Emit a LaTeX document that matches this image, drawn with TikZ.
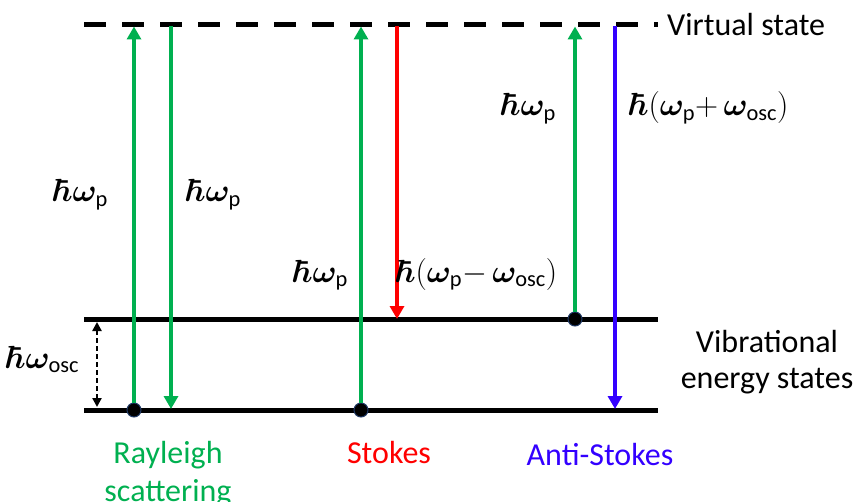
\RequirePackage{fix-cm}
\documentclass[tikz,border=0pt]{standalone}
\usepackage{amsmath,bm}
\usepackage{fontspec}
\setmainfont{Carlito}
\usetikzlibrary{arrows.meta}
\definecolor{pgreen}{RGB}{0,176,80}
\definecolor{pred}{RGB}{255,0,0}
\definecolor{pblue}{RGB}{51,0,255}
\definecolor{dotline}{RGB}{31,56,100}
\newcommand{\hb}{\bm{\hbar}}
\begin{document}
\begin{tikzpicture}[x=1pt,y=-1pt,
  level/.style={line width=5pt},
  vlevel/.style={line width=5pt, dash pattern=on 22pt off 16pt},
  trans/.style={line width=4pt, -{Triangle[width=14pt,length=13pt]}},
  gaparrow/.style={line width=2.5pt, dash pattern=on 5pt off 3pt, {Triangle[width=9pt,length=9pt]}-{Triangle[width=9pt,length=9pt]}},
  dot/.style={circle, fill=black, draw=dotline, line width=1pt, minimum size=14pt, inner sep=0pt},
  lbl/.style={font=\fontsize{32}{38}\selectfont, inner sep=0pt, anchor=base west},
  captext/.style={font=\fontsize{32}{38}\selectfont, inner sep=0pt, anchor=base}]
\useasboundingbox (0,0) rectangle (858,502);
% levels
\coordinate (vl) at (84,25);  \coordinate (vr) at (658,25);
\coordinate (e1l) at (84,319); \coordinate (e1r) at (658,319);
\coordinate (e0l) at (84,410); \coordinate (e0r) at (658,410);
\draw[vlevel] (vl) -- (vr);
\draw[level] (e1l) -- (e1r);
\draw[level] (e0l) -- (e0r);
% dots
\node[dot] (r0) at (134,410) {};
\node[dot] (s0) at (361,410) {};
\node[dot] (a1) at (575,319) {};
% end points
\coordinate (rt1) at (134,26.5);
\coordinate (rt2) at (171,26.5);
\coordinate (st1) at (361,26.5);
\coordinate (st2) at (397,26.5);
\coordinate (at1) at (575,26.5);
\coordinate (at2) at (615,26.5);
\coordinate (rb2) at (171,409);
\coordinate (sb2) at (397,319);
\coordinate (ab2) at (615,409);
\coordinate (d1) at (97,322);
\coordinate (d0) at (97,407);
% transitions
\draw[trans, pgreen] (r0) -- (rt1);
\draw[trans, pgreen] (rt2) -- (rb2);
\draw[trans, pgreen] (s0) -- (st1);
\draw[trans, pred] (st2) -- (sb2);
\draw[trans, pgreen] (a1) -- (at1);
\draw[trans, pblue] (at2) -- (ab2);
\draw[gaparrow] (d1) -- (d0);
% math labels
\node[lbl] (l1) at (57,202) {$\hb\bm{\omega}_{\text{p}}$};
\node[lbl] (l2) at (190,202) {$\hb\bm{\omega}_{\text{p}}$};
\node[lbl] (l3) at (297,282) {$\hb\bm{\omega}_{\text{p}}$};
\node[lbl] (l4) at (400,282) {$\hb(\bm{\omega}_{\text{p}}{-}\,\bm{\omega}_{\text{osc}})$};
\node[lbl] (l5) at (505,116) {$\hb\bm{\omega}_{\text{p}}$};
\node[lbl] (l6) at (633,116) {$\hb(\bm{\omega}_{\text{p}}{+}\,\bm{\omega}_{\text{osc}})$};
\node[lbl] (l7) at (10,368) {$\hb\bm{\omega}_{\text{osc}}$};
% text labels
\node[lbl] (vs) at (667,36) {Virtual state};
\node[captext] (vib1) at (767,352) {Vibrational};
\node[captext] (vib2) at (767,388) {energy states};
\node[captext, text=pgreen] (ray1) at (168,463) {Rayleigh};
\node[captext, text=pgreen] (ray2) at (168,501) {scattering};
\node[captext, text=pred] (sto) at (389,463) {Stokes};
\node[captext, text=pblue] (ast) at (600,465) {Anti-Stokes};
\end{tikzpicture}
\end{document}
